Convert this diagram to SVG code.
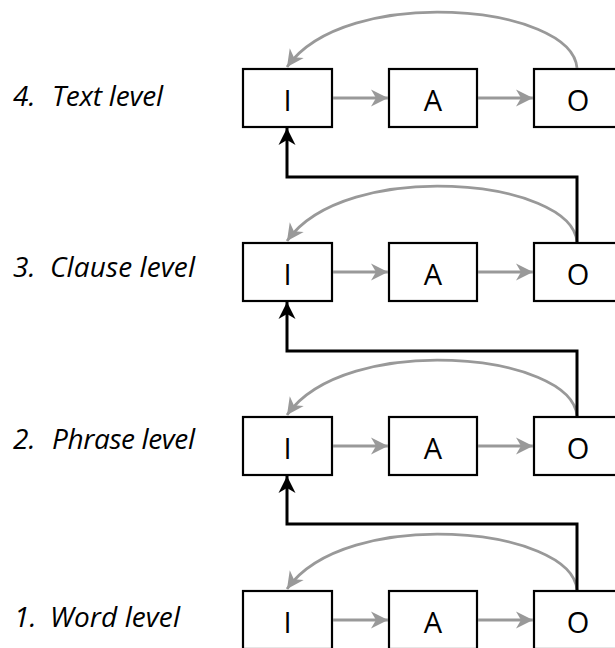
<svg xmlns="http://www.w3.org/2000/svg" width="615" height="648" viewBox="0 0 615 648">
<defs>
<style>
.box{fill:#fff;stroke:#000;stroke-width:2.2}
.lt{font-family:"Open Sans","Noto Sans","DejaVu Sans",sans-serif;font-size:29px;text-anchor:middle;fill:#000}
.lab{font-family:"Open Sans","Noto Sans","DejaVu Sans",sans-serif;font-size:28px;font-style:italic;fill:#000}
.g{fill:none;stroke:#999;stroke-width:2.8;marker-end:url(#ag)}
.k{fill:none;stroke:#000;stroke-width:3;marker-end:url(#ak)}
</style>
<marker id="ag" viewBox="-1 -10 20 20" refX="17" refY="0" markerWidth="20" markerHeight="20" markerUnits="userSpaceOnUse" orient="auto">
<path d="M0,-8.5 L17,0 L0,8.5 L5,0 z" fill="#999"/>
</marker>
<marker id="ak" viewBox="-1 -10 20 20" refX="17" refY="0" markerWidth="20" markerHeight="20" markerUnits="userSpaceOnUse" orient="auto">
<path d="M0,-8.5 L17,0 L0,8.5 L5,0 z" fill="#000"/>
</marker>
</defs>
<g id="labels">
<text class="lab" y="106"><tspan x="13">4.</tspan><tspan x="52" textLength="111">Text level</tspan></text>
<text class="lab" y="277"><tspan x="13">3.</tspan><tspan x="50" textLength="145">Clause level</tspan></text>
<text class="lab" y="449"><tspan x="13">2.</tspan><tspan x="52" textLength="143">Phrase level</tspan></text>
<text class="lab" y="627"><tspan x="14">1.</tspan><tspan x="50" textLength="130">Word level</tspan></text>
</g>
<g id="row4">
<g id="I4"><rect class="box" x="243" y="69" width="89" height="58"/><text class="lt" x="287.5" y="111">I</text></g>
<g id="A4"><rect class="box" x="389" y="69" width="88" height="58"/><text class="lt" x="433" y="111">A</text></g>
<g id="O4"><rect class="box" x="534" y="69" width="88" height="58"/><text class="lt" x="578" y="111">O</text></g>
</g>
<g id="row3">
<g id="I3"><rect class="box" x="243" y="243" width="89" height="58"/><text class="lt" x="287.5" y="285">I</text></g>
<g id="A3"><rect class="box" x="389" y="243" width="88" height="58"/><text class="lt" x="433" y="285">A</text></g>
<g id="O3"><rect class="box" x="534" y="243" width="88" height="58"/><text class="lt" x="578" y="285">O</text></g>
</g>
<g id="row2">
<g id="I2"><rect class="box" x="243" y="417" width="89" height="58"/><text class="lt" x="287.5" y="459">I</text></g>
<g id="A2"><rect class="box" x="389" y="417" width="88" height="58"/><text class="lt" x="433" y="459">A</text></g>
<g id="O2"><rect class="box" x="534" y="417" width="88" height="58"/><text class="lt" x="578" y="459">O</text></g>
</g>
<g id="row1">
<g id="I1"><rect class="box" x="243" y="591" width="89" height="58"/><text class="lt" x="287.5" y="633">I</text></g>
<g id="A1"><rect class="box" x="389" y="591" width="88" height="58"/><text class="lt" x="433" y="633">A</text></g>
<g id="O1"><rect class="box" x="534" y="591" width="88" height="58"/><text class="lt" x="578" y="633">O</text></g>
</g>
<g id="connectors">
<path class="g" d="M333,98 H388"/>
<path class="g" d="M478,98 H533"/>
<path class="g" d="M577,68 C572,4 345,-16 287,67"/>
<path class="g" d="M333,272 H388"/>
<path class="g" d="M478,272 H533"/>
<path class="g" d="M577,242 C572,178 345,158 287,241"/>
<path class="g" d="M333,446 H388"/>
<path class="g" d="M478,446 H533"/>
<path class="g" d="M577,416 C572,352 345,332 287,415"/>
<path class="g" d="M333,620 H388"/>
<path class="g" d="M478,620 H533"/>
<path class="g" d="M577,590 C572,526 345,506 287,589"/>
<path class="k" d="M577,242 V177 H287 V128"/>
<path class="k" d="M577,416 V351 H287 V302"/>
<path class="k" d="M577,590 V524 H287 V476"/>
</g>
</svg>
